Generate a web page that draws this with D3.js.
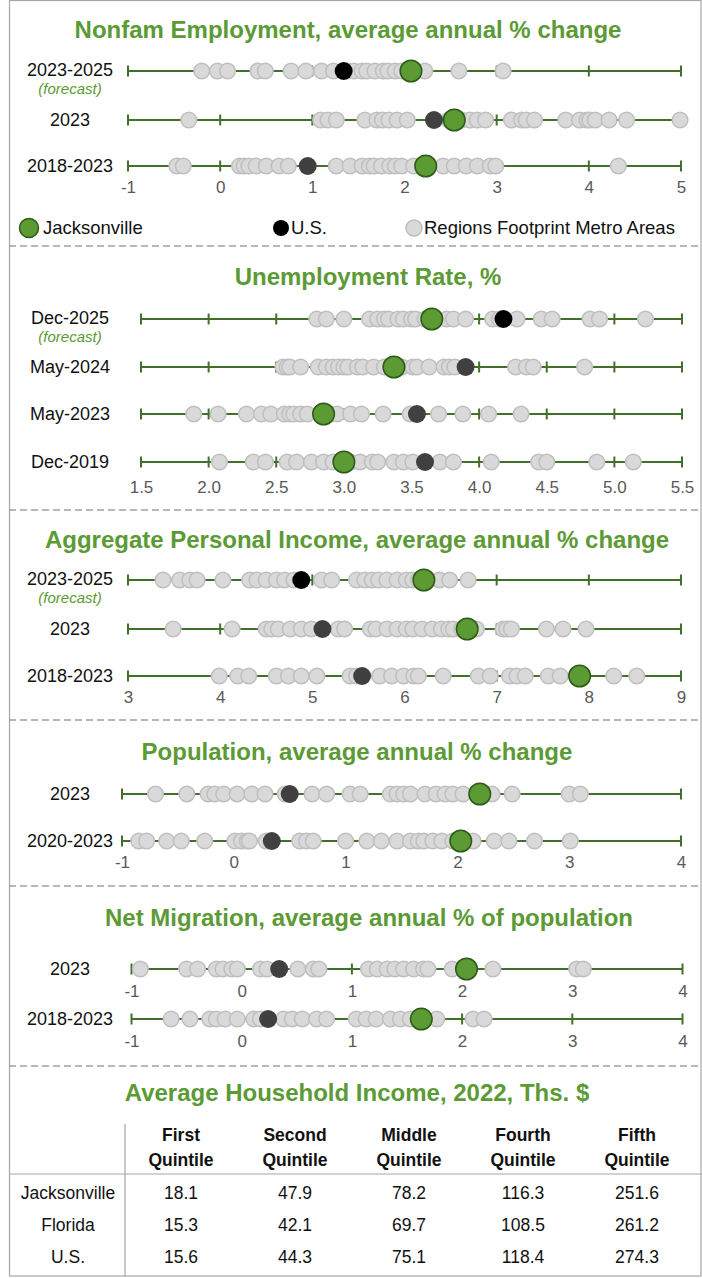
<!DOCTYPE html>
<html>
<head>
<meta charset="utf-8">
<script src="https://cdn.jsdelivr.net/npm/d3@7"></script>
<style>
  body { margin: 0; background: #fff; }
  svg { display: block; font-family: "Liberation Sans", Arial, Helvetica, sans-serif; }
</style>
</head>
<body>
<svg id="chart" width="702" height="1278"></svg>
<script>
// ---------- Nonfarm employment, average annual % change ----------
const empRows  = ["2023-2025", "2023", "2018-2023"];
const empTicks = [-1, 0, 1, 2, 3, 4, 5];
const empJax   = [2.07, 2.54, 2.23];
const empUS    = [1.34, 2.32, 0.95];
const empMetro2325 = [-0.20, -0.03, 0.08, 0.41, 0.49, 0.77, 0.93, 1.10, 1.23, 1.38, 1.45, 1.54, 1.59,
                      1.68, 1.77, 1.82, 1.90, 1.97, 2.22, 2.59, 3.07];
const empMetro23   = [-0.34, 1.09, 1.17, 1.26, 1.57, 1.70, 1.76, 1.83, 1.92, 2.03, 2.48, 2.62, 2.71,
                      2.79, 2.88, 3.16, 3.27, 3.32, 3.41, 3.75, 3.90, 3.98, 4.01, 4.07, 4.22, 4.41, 4.99];
const empMetro1823 = [-0.47, -0.40, 0.21, 0.26, 0.31, 0.39, 0.50, 0.64, 0.74, 1.26, 1.41, 1.54, 1.62,
                      1.67, 1.75, 1.84, 1.90, 1.97, 2.10, 2.42, 2.54, 2.67, 2.79, 2.93, 2.99, 4.32];

// ---------- Unemployment rate, % ----------
const unRows  = ["Dec-2025", "May-2024", "May-2023", "Dec-2019"];
const unTicks = [1.5, 2.0, 2.5, 3.0, 3.5, 4.0, 4.5, 5.0, 5.5];
const unJax   = [3.65, 3.37, 2.85, 3.00];
const unUS    = [4.18, 3.90, 3.54, 3.60];
const unMetroDec25 = [2.80, 2.87, 3.00, 3.19, 3.25, 3.30, 3.33, 3.40, 3.44, 3.50, 3.53, 3.60, 3.76,
                      3.81, 3.90, 4.10, 4.15, 4.28, 4.46, 4.54, 4.82, 4.89, 5.23];
const unMetroMay24 = [2.55, 2.58, 2.60, 2.68, 2.81, 2.87, 2.92, 2.96, 3.00, 3.03, 3.10, 3.14, 3.22,
                      3.30, 3.43, 3.51, 3.54, 3.63, 3.74, 3.78, 3.82, 4.27, 4.35, 4.40, 4.78];
const unMetroMay23 = [1.89, 2.07, 2.28, 2.39, 2.46, 2.56, 2.60, 2.63, 2.68, 2.73, 2.90, 2.95, 3.05,
                      3.13, 3.29, 3.49, 3.70, 3.88, 4.07, 4.31];
const unMetroDec19 = [2.08, 2.33, 2.42, 2.58, 2.65, 2.76, 2.85, 2.92, 3.05, 3.12, 3.21, 3.25, 3.37,
                      3.44, 3.51, 3.71, 3.81, 4.09, 4.44, 4.50, 4.87, 5.14];

// ---------- Aggregate personal income, average annual % change ----------
const incRows  = ["2023-2025", "2023", "2018-2023"];
const incTicks = [3, 4, 5, 6, 7, 8, 9];
const incJax   = [6.21, 6.68, 7.90];
const incUS    = [4.88, 5.11, 5.54];
const incMetro2325 = [3.38, 3.56, 3.67, 3.75, 4.03, 4.32, 4.40, 4.50, 4.61, 4.70, 4.80, 5.10, 5.21,
                      5.48, 5.57, 5.65, 5.72, 5.81, 5.92, 6.02, 6.09, 6.15, 6.38, 6.49, 6.69];
const incMetro23   = [3.49, 4.13, 4.50, 4.56, 4.63, 4.76, 4.88, 4.99, 5.28, 5.35, 5.63, 5.69, 5.81,
                      5.92, 6.02, 6.09, 6.19, 6.30, 6.40, 6.48, 6.53, 6.62, 6.78, 7.07, 7.11, 7.16,
                      7.54, 7.72, 7.97];
const incMetro1823 = [3.99, 4.19, 4.31, 4.61, 4.74, 4.88, 5.05, 5.41, 5.48, 5.73, 5.86, 5.99, 6.10,
                      6.15, 6.42, 6.80, 6.93, 7.14, 7.22, 7.31, 7.56, 7.69, 8.27, 8.52];

// ---------- Population, average annual % change ----------
const popRows  = ["2023", "2020-2023"];
const popTicks = [-1, 0, 1, 2, 3, 4];
const popJax   = [2.20, 2.03];
const popUS    = [0.50, 0.34];
const popMetro23   = [-0.70, -0.42, -0.23, -0.17, -0.09, 0.03, 0.16, 0.28, 0.46, 0.70, 0.83, 1.04,
                      1.13, 1.40, 1.46, 1.52, 1.58, 1.71, 1.81, 1.89, 1.96, 2.05, 2.31, 2.49, 3.00, 3.10];
const popMetro2023 = [-0.85, -0.78, -0.60, -0.47, -0.26, 0.01, 0.07, 0.12, 0.14, 0.29, 0.59, 0.65,
                      0.71, 1.00, 1.19, 1.32, 1.46, 1.58, 1.65, 1.70, 1.78, 1.86, 1.96, 2.14, 2.33,
                      2.46, 2.69, 3.01];

// ---------- Net migration, average annual % of population ----------
const migRows  = ["2023", "2018-2023"];
const migTicks = [-1, 0, 1, 2, 3, 4];
const migJax   = [2.04, 1.63];
const migUS    = [0.34, 0.24];
const migMetro23   = [-0.92, -0.50, -0.40, -0.23, -0.17, -0.09, -0.04, 0.17, 0.23, 0.51, 0.65, 0.70,
                      1.15, 1.23, 1.32, 1.39, 1.47, 1.56, 1.65, 1.69, 1.91, 2.28, 3.04, 3.10];
const migMetro1823 = [-0.64, -0.47, -0.29, -0.23, -0.15, -0.04, 0.11, 0.17, 0.38, 0.46, 0.55, 0.68,
                      0.77, 1.04, 1.13, 1.22, 1.35, 1.44, 1.53, 1.77, 2.10, 2.20];

// ---------- Average household income, 2022, Ths. $ ----------
const quintiles   = ["First", "Second", "Middle", "Fourth", "Fifth"];
const incomeAreas = ["Jacksonville", "Florida", "U.S."];
const hhJax = [18.1, 47.9, 78.2, 116.3, 251.6];
const hhFL  = [15.3, 42.1, 69.7, 108.5, 261.2];
const hhUS  = [15.6, 44.3, 75.1, 118.4, 274.3];

// ---------- styles ----------
const GREEN_TXT = "#5b9a35";
const JAX_FILL = "#5c9a34", JAX_STROKE = "#2e5b18";
const METRO_FILL = "#d9d9d9", METRO_STROKE = "#bfbfbf";
const AXIS_COL = "#41702a";
const FONT = '"Liberation Sans", Arial, Helvetica, sans-serif';
const TITLE_SIZE = 24, LABEL_SIZE = 18, TICK_SIZE = 17, TABLE_SIZE = 17.5;

const svg = d3.select("#chart");

// outer frame
svg.append("rect")
  .attr("x", 9.5).attr("y", 0.5).attr("width", 691.5).attr("height", 1275.5)
  .attr("fill", "none").attr("stroke", "#a6a6a6").attr("stroke-width", 1.2);

// panel layout
const panels = [
  { title: "Nonfam Employment, average annual % change", tx: 348, ty: 30,
    domain: [-1, 5], range: [128, 681], ticks: empTicks, fmt: d => String(d),
    rows: empRows, ys: [71, 120, 166], jax: empJax, us: empUS,
    metros: [empMetro2325, empMetro23, empMetro1823], forecast: [0], axisUnder: [2], labelGap: 21 },
  { title: "Unemployment Rate, %", tx: 368, ty: 277,
    domain: [1.5, 5.5], range: [141, 682], ticks: unTicks, fmt: d => d.toFixed(1),
    rows: unRows, ys: [319, 367, 414, 462], jax: unJax, us: unUS,
    metros: [unMetroDec25, unMetroMay24, unMetroMay23, unMetroDec19], forecast: [0], axisUnder: [3], labelGap: 25 },
  { title: "Aggregate Personal Income, average annual % change", tx: 357, ty: 540,
    domain: [3, 9], range: [128, 681], ticks: incTicks, fmt: d => String(d),
    rows: incRows, ys: [580, 629, 676], jax: incJax, us: incUS,
    metros: [incMetro2325, incMetro23, incMetro1823], forecast: [0], axisUnder: [2], labelGap: 21 },
  { title: "Population, average annual % change", tx: 357, ty: 752,
    domain: [-1, 4], range: [122, 681], ticks: popTicks, fmt: d => String(d),
    rows: popRows, ys: [794, 841], jax: popJax, us: popUS,
    metros: [popMetro23, popMetro2023], forecast: [], axisUnder: [1], labelGap: 21 },
  { title: "Net Migration, average annual % of population", tx: 369, ty: 918,
    domain: [-1, 4], range: [131.5, 682.5], ticks: migTicks, fmt: d => String(d),
    rows: migRows, ys: [969, 1019], jax: migJax, us: migUS,
    metros: [migMetro23, migMetro1823], forecast: [], axisUnder: [0, 1], labelGap: 22 }
];

panels.forEach(p => {
  const x = d3.scaleLinear().domain(p.domain).range(p.range);
  const g = svg.append("g");

  g.append("text")
    .attr("x", p.tx).attr("y", p.ty).attr("dy", "0.35em")
    .attr("text-anchor", "middle")
    .attr("font-size", TITLE_SIZE).attr("font-weight", "bold")
    .attr("fill", GREEN_TXT)
    .text(p.title);

  p.rows.forEach((label, i) => {
    const y = p.ys[i];
    const row = g.append("g");
    const isForecast = p.forecast.includes(i);

    // row label (nudged up slightly when a forecast note sits beneath it)
    row.append("text")
      .attr("x", 70).attr("y", isForecast ? y - 1 : y).attr("dy", "0.35em")
      .attr("text-anchor", "middle").attr("font-size", LABEL_SIZE).attr("fill", "#111")
      .text(label);
    if (isForecast) {
      row.append("text")
        .attr("x", 70).attr("y", y + 18).attr("dy", "0.35em")
        .attr("text-anchor", "middle").attr("font-size", 15)
        .attr("font-style", "italic").attr("fill", GREEN_TXT)
        .text("(forecast)");
    }

    // axis line with tick marks
    row.append("line")
      .attr("x1", x(p.domain[0])).attr("x2", x(p.domain[1]))
      .attr("y1", y).attr("y2", y)
      .attr("stroke", AXIS_COL).attr("stroke-width", 2);
    row.selectAll("line.tk").data(p.ticks).join("line")
      .attr("class", "tk")
      .attr("x1", d => x(d)).attr("x2", d => x(d))
      .attr("y1", y - 5.5).attr("y2", y + 5.5)
      .attr("stroke", AXIS_COL).attr("stroke-width", 2);

    // metro areas
    row.selectAll("circle.m").data(p.metros[i]).join("circle")
      .attr("class", "m")
      .attr("cx", d => x(d)).attr("cy", y).attr("r", 7.8)
      .attr("fill", METRO_FILL).attr("stroke", METRO_STROKE).attr("stroke-width", 1.5);

    // U.S.
    row.append("circle")
      .attr("cx", x(p.us[i])).attr("cy", y).attr("r", 9)
      .attr("fill", isForecast ? "#000" : "#404040");

    // Jacksonville
    row.append("circle")
      .attr("cx", x(p.jax[i])).attr("cy", y).attr("r", 10.8)
      .attr("fill", JAX_FILL).attr("stroke", JAX_STROKE).attr("stroke-width", 1.5);

    // tick labels
    if (p.axisUnder.includes(i)) {
      const ax = d3.axisBottom(x).tickValues(p.ticks).tickFormat(p.fmt)
        .tickSize(0).tickPadding(p.labelGap - 6.5);
      const ag = g.append("g").attr("transform", `translate(0,${y})`).call(ax);
      ag.select(".domain").remove();
      ag.selectAll("text")
        .attr("font-family", FONT).attr("font-size", TICK_SIZE).attr("fill", "#595959");
    }
  });
});

// legend
const legend = [
  { label: "Jacksonville", cx: 29, tx: 43, r: 9.5, fill: JAX_FILL, stroke: JAX_STROKE },
  { label: "U.S.", cx: 281, tx: 291, r: 8, fill: "#000", stroke: "none" },
  { label: "Regions Footprint Metro Areas", cx: 414, tx: 424, r: 8, fill: METRO_FILL, stroke: METRO_STROKE }
];
const lg = svg.append("g");
lg.selectAll("circle").data(legend).join("circle")
  .attr("cx", d => d.cx).attr("cy", 228).attr("r", d => d.r)
  .attr("fill", d => d.fill).attr("stroke", d => d.stroke).attr("stroke-width", 1.5);
lg.selectAll("text").data(legend).join("text")
  .attr("x", d => d.tx).attr("y", 228).attr("dy", "0.35em")
  .attr("font-size", 18.5).attr("fill", "#111")
  .text(d => d.label);

// dashed separators
svg.selectAll("line.sep").data([246, 510, 720, 886, 1066]).join("line")
  .attr("class", "sep")
  .attr("x1", 9).attr("x2", 702).attr("y1", d => d).attr("y2", d => d)
  .attr("stroke", "#a0a0a0").attr("stroke-width", 1.5).attr("stroke-dasharray", "7,4");

// household income table
const tg = svg.append("g");
tg.append("text")
  .attr("x", 357).attr("y", 1093).attr("dy", "0.35em")
  .attr("text-anchor", "middle").attr("font-size", TITLE_SIZE).attr("font-weight", "bold")
  .attr("fill", GREEN_TXT)
  .text("Average Household Income, 2022, Ths. $");

const colX = d3.scalePoint().domain(quintiles).range([181, 637]);
const rowY = d3.scalePoint().domain(incomeAreas).range([1193, 1257]);

tg.selectAll("text.h1").data(quintiles).join("text")
  .attr("class", "h1")
  .attr("x", d => colX(d)).attr("y", 1135).attr("dy", "0.35em")
  .attr("text-anchor", "middle").attr("font-size", TABLE_SIZE).attr("font-weight", "bold").attr("fill", "#111")
  .text(d => d);
tg.selectAll("text.h2").data(quintiles).join("text")
  .attr("class", "h2")
  .attr("x", d => colX(d)).attr("y", 1160).attr("dy", "0.35em")
  .attr("text-anchor", "middle").attr("font-size", TABLE_SIZE).attr("font-weight", "bold").attr("fill", "#111")
  .text("Quintile");

tg.append("line").attr("x1", 125).attr("x2", 125).attr("y1", 1124).attr("y2", 1276)
  .attr("stroke", "#a6a6a6").attr("stroke-width", 1.2);
tg.append("line").attr("x1", 9).attr("x2", 702).attr("y1", 1174).attr("y2", 1174)
  .attr("stroke", "#a6a6a6").attr("stroke-width", 1.2);

const tableRows = [hhJax, hhFL, hhUS];
incomeAreas.forEach((area, i) => {
  const y = rowY(area);
  tg.append("text")
    .attr("x", 68).attr("y", y).attr("dy", "0.35em")
    .attr("text-anchor", "middle").attr("font-size", TABLE_SIZE).attr("fill", "#111")
    .text(area);
  tg.selectAll(`text.v${i}`).data(tableRows[i]).join("text")
    .attr("class", `v${i}`)
    .attr("x", (d, j) => colX(quintiles[j])).attr("y", y).attr("dy", "0.35em")
    .attr("text-anchor", "middle").attr("font-size", TABLE_SIZE).attr("fill", "#111")
    .text(d => d.toFixed(1));
});
</script>
</body>
</html>
